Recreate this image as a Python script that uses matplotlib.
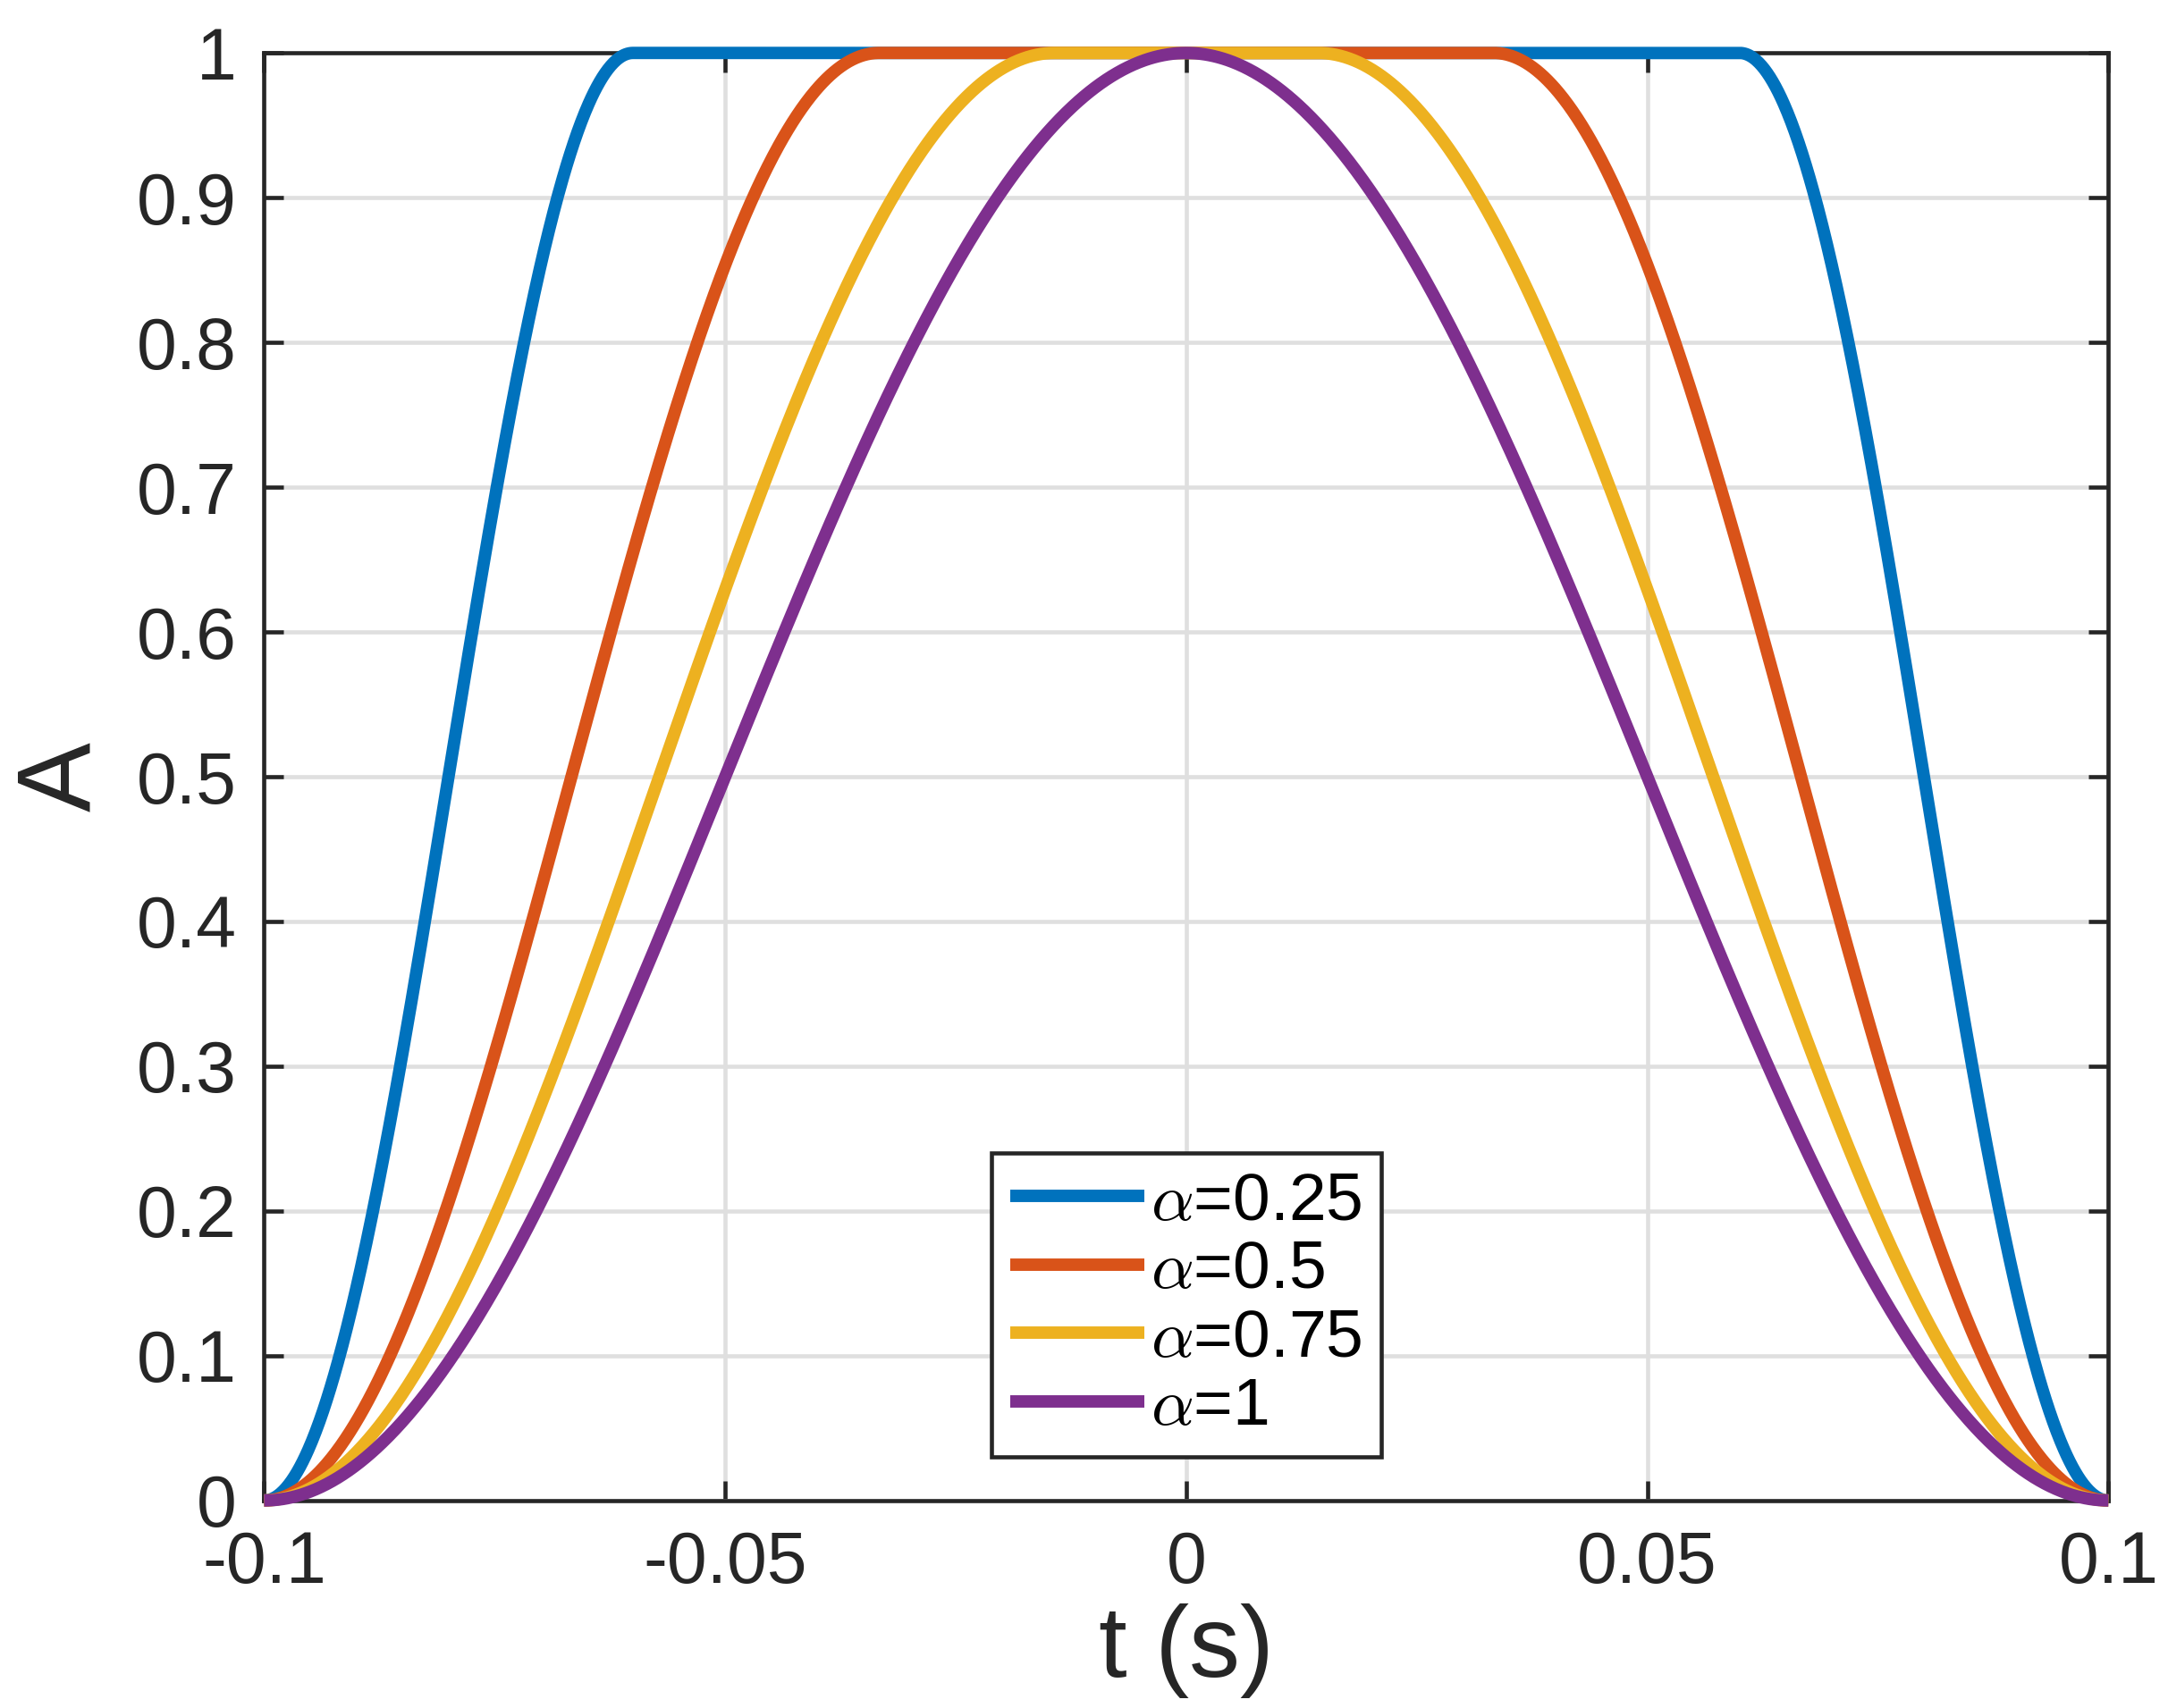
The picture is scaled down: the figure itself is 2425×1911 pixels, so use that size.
import matplotlib.pyplot as plt
import numpy as np

# roll-off factors of the raised-cosine curves
alphas = [0.25, 0.5, 0.75, 1.0]
labels = [r'$\alpha$=0.25', r'$\alpha$=0.5', r'$\alpha$=0.75', r'$\alpha$=1']
colors = ['#0072BD', '#D95319', '#EDB120', '#7E2F8E']
t_edge = 0.1  # curves reach zero at +-0.1 s

x_ticks = [-0.1, -0.05, 0, 0.05, 0.1]
x_ticklabels = ['-0.1', '-0.05', '0', '0.05', '0.1']
y_ticks = [0, 0.1, 0.2, 0.3, 0.4, 0.5, 0.6, 0.7, 0.8, 0.9, 1]
y_ticklabels = ['0', '0.1', '0.2', '0.3', '0.4', '0.5', '0.6', '0.7', '0.8', '0.9', '1']

plt.rcParams['font.family'] = ['Liberation Sans', 'DejaVu Sans']
plt.rcParams['mathtext.fontset'] = 'cm'

dark = '#262626'

fig = plt.figure(figsize=(24.25, 19.11), dpi=100)
ax = fig.add_axes([0.1218, 0.1215, 0.9725 - 0.1218, 0.969 - 0.1215])

t = np.linspace(-t_edge, t_edge, 2001)
for a, lab, c in zip(alphas, labels, colors):
    T = (1 + a) / (2 * t_edge)
    flat = (1 - a) / (2 * T)
    at = np.abs(t)
    A = np.where(at <= flat, 1.0,
                 0.5 * (1 + np.cos(np.pi * T / a * (at - flat))))
    ax.plot(t, A, color=c, lw=10, label=lab, clip_on=False, zorder=5,
            solid_capstyle='butt')

ax.set_xlim(-0.1, 0.1)
ax.set_ylim(0, 1)
ax.set_xticks(x_ticks)
ax.set_xticklabels(x_ticklabels)
ax.set_yticks(y_ticks)
ax.set_yticklabels(y_ticklabels)

ax.grid(True, color='#dfdfdf', lw=3.3)
ax.set_axisbelow(True)
for s in ax.spines.values():
    s.set_color(dark)
    s.set_linewidth(3.3)
    s.set_zorder(4)
ax.tick_params(direction='in', length=16, width=3.3, color=dark,
               labelsize=58, labelcolor=dark, pad=22,
               top=True, right=True)
ax.tick_params(axis='x', pad=24)

ax.set_xlabel('t (s)', fontsize=82, color=dark, labelpad=4)
ax.set_ylabel('A', fontsize=84, color=dark, labelpad=20)

leg = ax.legend(loc='lower center', bbox_to_anchor=(0.5, 0.03),
                borderaxespad=0, fontsize=54, handlelength=2.0,
                handletextpad=0.1, labelspacing=0.1, borderpad=0.28,
                fancybox=False, framealpha=1)
leg.get_frame().set_edgecolor(dark)
leg.get_frame().set_linewidth(3.3)
leg.set_zorder(10)

fig.savefig('out.png', dpi=100)
